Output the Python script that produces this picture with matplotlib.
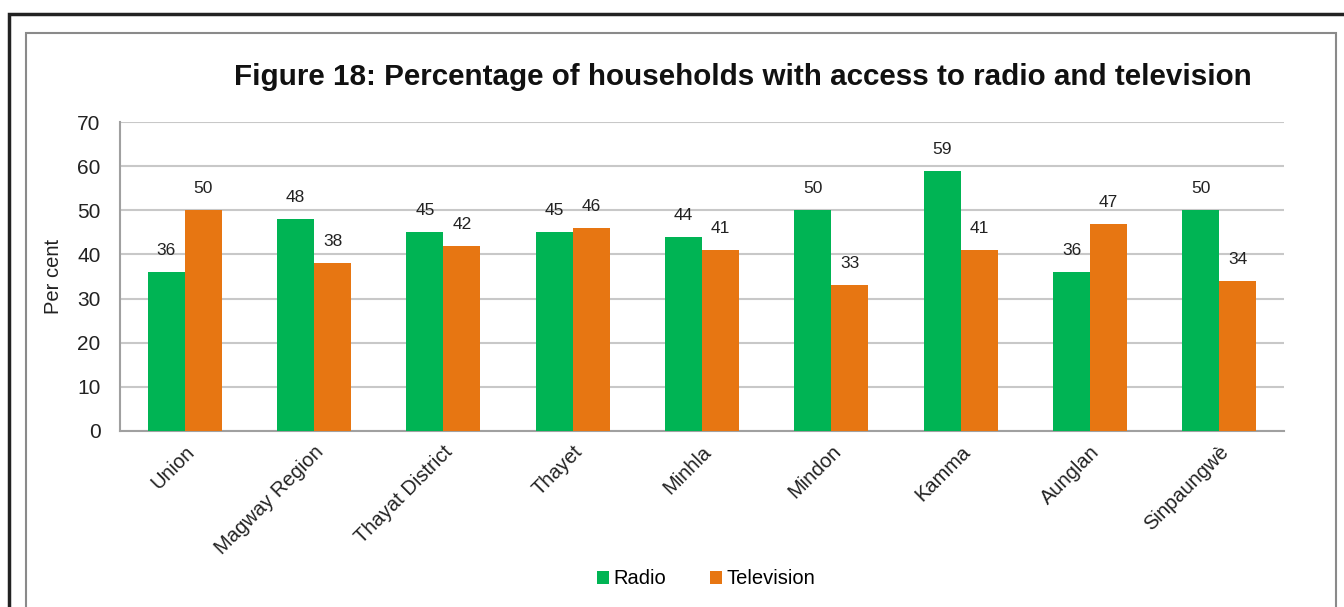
import numpy as np
import matplotlib.pyplot as plt
from matplotlib.patches import Rectangle

plt.rcParams['font.family'] = ['Liberation Sans', 'DejaVu Sans']

places = ['Union', 'Magway Region', 'Thayat District', 'Thayet', 'Minhla',
          'Mindon', 'Kamma', 'Aunglan', 'Sinpaungwè']
radio = [36, 48, 45, 45, 44, 50, 59, 36, 50]
television = [50, 38, 42, 46, 41, 33, 41, 47, 34]

green = '#00B454'
orange = '#E77612'

W, H = 1344, 607
fig = plt.figure(figsize=(W / 100, H / 100), dpi=100)

# outer frame and chart border
fig.patches.append(Rectangle((9 / W, -0.1), 1.2, (H - 14) / H + 0.1,
                             transform=fig.transFigure, fill=False,
                             edgecolor='#222222', linewidth=2.5))
fig.patches.append(Rectangle((26 / W, -0.1), (1336 - 26) / W, (H - 33) / H + 0.1,
                             transform=fig.transFigure, fill=False,
                             edgecolor='#8a8a8a', linewidth=1.5))

ax = fig.add_axes([120 / W, (H - 431) / H, (1284 - 120) / W, (431 - 122) / H])

x = np.arange(len(places))
w = 0.286
b1 = ax.bar(x - w / 2, radio, w, color=green, label='Radio', zorder=3)
b2 = ax.bar(x + w / 2, television, w, color=orange, label='Television', zorder=3)

for bars in (b1, b2):
    for rect in bars:
        h = rect.get_height()
        ax.annotate(f'{h:.0f}', (rect.get_x() + rect.get_width() / 2, h),
                    xytext=(0, 10), textcoords='offset points',
                    ha='center', va='bottom', fontsize=12.5, color='#222222')

ax.set_xlim(-0.5, len(places) - 0.5)
ax.set_ylim(0, 70)
ax.set_yticks(range(0, 71, 10))
ax.yaxis.grid(True, color='#c8c8c8', linewidth=1.5, zorder=0)
ax.set_axisbelow(True)
for s in ['top', 'right']:
    ax.spines[s].set_visible(False)
for s in ['left', 'bottom']:
    ax.spines[s].set_color('#a0a0a0')
    ax.spines[s].set_linewidth(1.5)
ax.tick_params(axis='both', length=0, labelsize=15, colors='#222222')
ax.tick_params(axis='y', pad=14)

ax.set_xticks(x)
ax.set_xticklabels(places, rotation=45, ha='right', rotation_mode='anchor',
                   fontsize=14.5)
ax.tick_params(axis='x', pad=8)
ax.set_ylabel('Per cent', fontsize=14.5, color='#222222', labelpad=10)

fig.text(743 / W, (H - 77) / H,
         'Figure 18: Percentage of households with access to radio and television',
         ha='center', va='center', fontsize=21.3, fontweight='bold', color='#111111')

fig.legend(handles=[b1, b2], loc='center', bbox_to_anchor=(706 / W, (H - 579) / H),
           ncol=2, frameon=False, fontsize=14.5, handlelength=0.6, handleheight=0.6,
           handletextpad=0.2, columnspacing=2.2)

fig.savefig('out.png', dpi=100)
